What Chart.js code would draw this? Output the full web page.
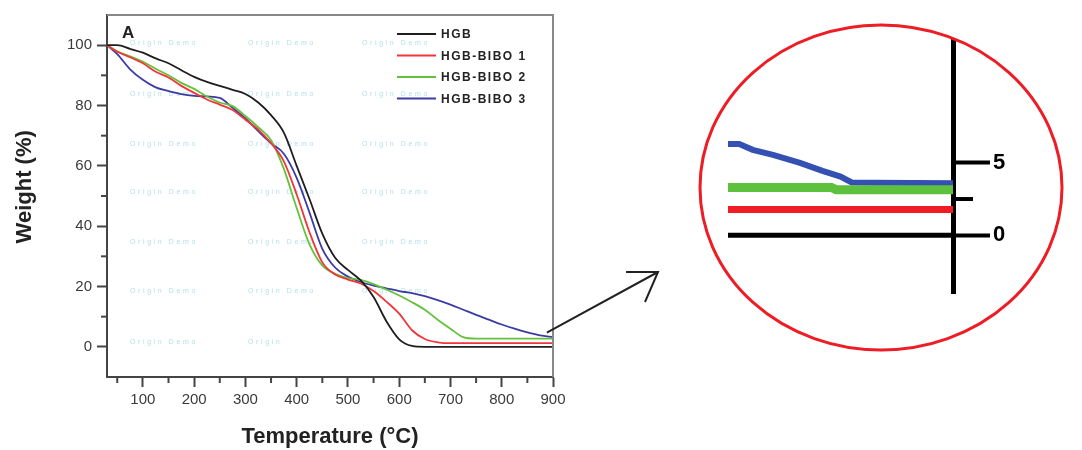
<!DOCTYPE html>
<html>
<head>
<meta charset="utf-8">
<script src="https://cdn.jsdelivr.net/npm/chart.js@4.4.1/dist/chart.umd.min.js"></script>
<style>
  html, body { margin: 0; padding: 0; background: #fff; }
  #wrap { position: relative; width: 1082px; height: 450px; }
  #wrap canvas { position: absolute; left: 0; top: 0; }
</style>
</head>
<body>
<div id="wrap">
  <canvas id="tgaChart" width="1082" height="450"></canvas>
  <canvas id="zoomChart" width="1082" height="450"></canvas>
</div>
<script>
// TGA curves, weight (%) vs temperature (°C)
const temps = [30, 50, 75, 100, 125, 150, 175, 200, 225, 250, 275, 300, 325, 350, 375, 400, 425, 450, 475, 500,
               525, 550, 575, 600, 625, 650, 675, 700, 725, 750, 775, 800, 825, 850, 875, 900];
const hgb   = [100, 100, 98.8, 97.5, 95.6, 94, 91.7, 89.5, 87.8, 86.5, 85.2, 83.8, 81, 76.8, 71, 60, 49, 37.5, 29.5, 25.5,
               22, 16.5, 8.5, 2.5, 0.3, 0, 0, 0, 0, 0, 0, 0, 0, 0, 0, 0];
const bibo1 = [100, 97.8, 96, 94, 91.2, 89.3, 86.5, 84.2, 82, 80.3, 78.5, 75.3, 72, 67.5, 61.5, 50.5, 38, 28, 24, 22.3,
               21, 18.5, 15, 11, 5.5, 2.6, 1.5, 1.2, 1.2, 1.2, 1.2, 1.2, 1.2, 1.2, 1.2, 1.2];
const bibo2 = [100, 98, 96.3, 94.5, 92.2, 90, 87.5, 85.5, 83, 81, 79.8, 76.5, 72.8, 68.5, 59, 46, 34, 27, 24.2, 22.8,
               22.2, 20.8, 19, 17, 14.8, 12.3, 9, 6, 3.2, 2.7, 2.7, 2.7, 2.7, 2.7, 2.7, 2.7];
const bibo3 = [100, 97, 92, 88.5, 86, 84.8, 83.8, 83.2, 83, 82.5, 79.2, 75.7, 71.5, 67.5, 64, 56, 44.5, 32.5, 26.3, 23.3,
               21.5, 20.3, 19.4, 18.5, 17.8, 16.8, 15.5, 14, 12.3, 10.6, 9, 7.4, 6, 4.8, 3.8, 3.2];

const seriesLabels = ["HGB", "HGB-BIBO 1", "HGB-BIBO 2", "HGB-BIBO 3"];
const seriesColors = ["#1e1e1e", "#f2353a", "#62c23a", "#3b3ba6"];

const xTicks = [50, 100, 150, 200, 250, 300, 350, 400, 450, 500, 550, 600, 650, 700, 750, 800, 850, 900];
const yTicks = [0, 10, 20, 30, 40, 50, 60, 70, 80, 90, 100];

// magnified end of the curves (inset)
const zoomTemps3 = [850, 852.5, 855.5, 860, 866, 871, 875, 877.5, 882.5, 900];
const zoomBibo3  = [6.3, 6.3, 5.9, 5.55, 5.0, 4.45, 4.05, 3.65, 3.62, 3.6];
const zoomTemps2 = [850, 873, 874, 900];
const zoomBibo2  = [3.3, 3.3, 3.15, 3.15];
const zoomTemps  = [850, 900];
const zoomBibo1  = [1.77, 1.77];
const zoomHgb    = [0, 0];
const zoomTicks  = [0, 2.5, 5];

const pts = (xs, ys) => xs.map((x, i) => ({ x: x, y: ys[i] }));

const extras = {
  id: "extras",
  beforeDatasetsDraw(chart) {
    const { ctx } = chart;
    ctx.save();
    ctx.font = "7px Arial";
    ctx.letterSpacing = "2.6px";
    ctx.fillStyle = "#b4e0ec";
    ctx.textBaseline = "middle";
    const rows = [43, 94, 144, 192, 242, 291, 342];
    rows.forEach((y, r) => {
      ctx.fillText("Origin Demo", 130, y);
      ctx.fillText(r === 6 ? "Origin" : "Origin Demo", 248, y);
      if (r < 6) ctx.fillText("Origin Demo", 362, y);
    });
    ctx.restore();
  },
  afterDraw(chart) {
    const { ctx, chartArea: a, scales } = chart;
    ctx.save();
    // frame top / right
    ctx.strokeStyle = "#888";
    ctx.lineWidth = 2;
    ctx.beginPath();
    ctx.moveTo(a.left, a.top);
    ctx.lineTo(a.right, a.top);
    ctx.lineTo(a.right, a.bottom);
    ctx.stroke();

    // minor ticks
    ctx.strokeStyle = "#444";
    ctx.lineWidth = 2;
    xTicks.filter(v => v % 100 !== 0).forEach(v => {
      const px = scales.x.getPixelForValue(v);
      ctx.beginPath(); ctx.moveTo(px, a.bottom); ctx.lineTo(px, a.bottom + 6); ctx.stroke();
    });
    yTicks.filter(v => v % 20 !== 0).forEach(v => {
      const py = scales.y.getPixelForValue(v);
      ctx.beginPath(); ctx.moveTo(a.left, py); ctx.lineTo(a.left - 6, py); ctx.stroke();
    });

    // panel letter
    ctx.fillStyle = "#222";
    ctx.font = "bold 17px Arial";
    ctx.textBaseline = "alphabetic";
    ctx.fillText("A", a.left + 15, a.top + 23);

    // legend
    ctx.font = "bold 12px Arial";
    ctx.letterSpacing = "1.5px";
    ctx.textBaseline = "middle";
    chart.data.datasets.forEach((ds, i) => {
      const y = 34 + i * 21.5;
      ctx.strokeStyle = ds.borderColor;
      ctx.lineWidth = 2;
      ctx.beginPath(); ctx.moveTo(397, y); ctx.lineTo(436, y); ctx.stroke();
      ctx.fillStyle = "#222";
      ctx.fillText(ds.label, 441, y + 1);
    });
    ctx.letterSpacing = "0px";

    // arrow to the inset
    const sx = scales.x.getPixelForValue(888), sy = scales.y.getPixelForValue(4.7);
    const tx = 658, ty = 272;
    ctx.strokeStyle = "#222";
    ctx.lineWidth = 2;
    ctx.beginPath();
    ctx.moveTo(sx, sy); ctx.lineTo(tx, ty);
    ctx.moveTo(626, 272); ctx.lineTo(tx, ty); ctx.lineTo(645, 302);
    ctx.stroke();
    ctx.restore();
  }
};

new Chart(document.getElementById("tgaChart"), {
  type: "line",
  data: {
    datasets: [hgb, bibo1, bibo2, bibo3].map((w, i) => ({
      label: seriesLabels[i],
      data: pts(temps, w),
      borderColor: seriesColors[i],
      borderWidth: 1.8,
      pointRadius: 0,
      fill: false,
      cubicInterpolationMode: "monotone"
    }))
  },
  options: {
    responsive: false,
    animation: false,
    layout: { padding: { left: 0, top: 15, right: 529, bottom: 0 } },
    plugins: { legend: { display: false }, tooltip: { enabled: false } },
    scales: {
      x: {
        type: "linear",
        min: 30,
        max: 900,
        afterFit: s => { s.height = 73; },
        afterBuildTicks: s => { s.ticks = xTicks.map(v => ({ value: v })); },
        ticks: {
          autoSkip: false,
          maxRotation: 0,
          padding: 4,
          color: "#3a3a3a",
          font: { family: "Arial", size: 15 },
          callback: v => (v % 100 === 0 ? v : "")
        },
        grid: {
          drawOnChartArea: false,
          tickLength: 10,
          tickWidth: 2,
          tickColor: c => (c.tick && c.tick.value % 100 === 0 ? "#444" : "rgba(0,0,0,0)")
        },
        border: { color: "#444", width: 2 },
        title: {
          display: true,
          text: "Temperature (°C)",
          color: "#222",
          font: { family: "Arial", size: 22, weight: "bold" },
          padding: { top: 0, bottom: 0 }
        }
      },
      y: {
        min: -10,
        max: 110,
        afterFit: s => { s.width = 107; },
        afterBuildTicks: s => { s.ticks = yTicks.map(v => ({ value: v })); },
        ticks: {
          autoSkip: false,
          padding: 5,
          color: "#3a3a3a",
          font: { family: "Arial", size: 15 },
          callback: v => (v % 20 === 0 ? v : "")
        },
        grid: {
          drawOnChartArea: false,
          tickLength: 10,
          tickWidth: 2,
          tickColor: c => (c.tick && c.tick.value % 20 === 0 ? "#444" : "rgba(0,0,0,0)")
        },
        border: { color: "#444", width: 2 },
        title: {
          display: true,
          text: "   Weight (%)",
          color: "#222",
          font: { family: "Arial", size: 22, weight: "bold" },
          padding: { top: 12, bottom: 0 }
        }
      }
    }
  },
  plugins: [extras]
});

// inset: magnified tail inside a red ellipse
const ellipse = {
  id: "ellipse",
  afterDraw(chart) {
    const { ctx, scales } = chart;
    ctx.save();
    ctx.strokeStyle = "#ee1c24";
    ctx.lineWidth = 3;
    ctx.beginPath();
    ctx.ellipse(881, 187.5, 181, 162.5, 0, 0, Math.PI * 2);
    ctx.stroke();
    // short minor tick at 2.5
    const py = scales.y.getPixelForValue(2.5), ax = chart.chartArea.right;
    ctx.strokeStyle = "#000";
    ctx.lineWidth = 4;
    ctx.beginPath(); ctx.moveTo(ax, py); ctx.lineTo(ax + 20, py); ctx.stroke();
    ctx.restore();
  }
};

new Chart(document.getElementById("zoomChart"), {
  type: "line",
  data: {
    datasets: [
      { label: seriesLabels[0], data: pts(zoomTemps, zoomHgb),    borderColor: "#000",    borderWidth: 5 },
      { label: seriesLabels[1], data: pts(zoomTemps, zoomBibo1),  borderColor: "#f01c24", borderWidth: 7 },
      { label: seriesLabels[2], data: pts(zoomTemps2, zoomBibo2), borderColor: "#5ec13e", borderWidth: 9 },
      { label: seriesLabels[3], data: pts(zoomTemps3, zoomBibo3), borderColor: "#3450b2", borderWidth: 6 }
    ].map(ds => Object.assign(ds, { pointRadius: 0, fill: false, borderCapStyle: "butt" }))
  },
  options: {
    responsive: false,
    animation: false,
    layout: { padding: { left: 728, top: 40, right: 0, bottom: 157 } },
    plugins: { legend: { display: false }, tooltip: { enabled: false } },
    scales: {
      x: { type: "linear", min: 850, max: 900, display: false },
      y: {
        position: "right",
        min: -4,
        max: 13.5,
        afterFit: s => { s.width = 129; },
        afterBuildTicks: s => { s.ticks = zoomTicks.map(v => ({ value: v })); },
        ticks: {
          autoSkip: false,
          padding: 3,
          color: "#000",
          font: { family: "Arial", size: 22, weight: "bold" },
          callback: v => (v % 5 === 0 ? v : "")
        },
        grid: {
          drawOnChartArea: false,
          tickLength: 37,
          tickWidth: 4,
          tickColor: c => (c.tick && c.tick.value % 5 === 0 ? "#000" : "rgba(0,0,0,0)")
        },
        border: { color: "#000", width: 5 }
      }
    }
  },
  plugins: [ellipse]
});
</script>
</body>
</html>
